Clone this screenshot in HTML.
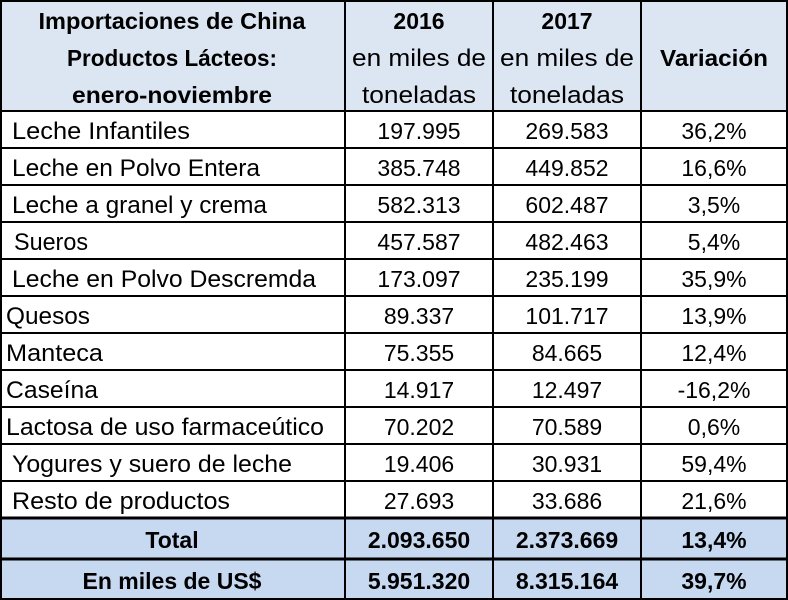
<!DOCTYPE html>
<html><head><meta charset="utf-8"><style>
html,body{margin:0;padding:0;background:#fff;}
svg{display:block;}
text{font-family:"Liberation Sans",sans-serif;fill:#000;}
.b{font-weight:bold;}
</style></head><body>
<svg width="788" height="600" viewBox="0 0 788 600" xmlns="http://www.w3.org/2000/svg">
<rect x="0" y="0" width="788" height="111" fill="#dce6f2"/>
<rect x="0" y="518" width="788" height="82" fill="#c6d9f1"/>
<g stroke="#000" fill="none">
<rect x="1" y="1" width="786" height="598" stroke-width="2"/>
<line x1="345" y1="0" x2="345" y2="600" stroke-width="2"/>
<line x1="493" y1="0" x2="493" y2="600" stroke-width="2"/>
<line x1="641" y1="0" x2="641" y2="600" stroke-width="2"/>
<line x1="0" y1="111" x2="788" y2="111" stroke-width="2"/>
<line x1="0" y1="148" x2="788" y2="148" stroke-width="2"/>
<line x1="0" y1="185" x2="788" y2="185" stroke-width="2"/>
<line x1="0" y1="222" x2="788" y2="222" stroke-width="2"/>
<line x1="0" y1="259" x2="788" y2="259" stroke-width="2"/>
<line x1="0" y1="296" x2="788" y2="296" stroke-width="2"/>
<line x1="0" y1="333" x2="788" y2="333" stroke-width="2"/>
<line x1="0" y1="370" x2="788" y2="370" stroke-width="2"/>
<line x1="0" y1="407" x2="788" y2="407" stroke-width="2"/>
<line x1="0" y1="444" x2="788" y2="444" stroke-width="2"/>
<line x1="0" y1="481" x2="788" y2="481" stroke-width="2"/>
<line x1="0" y1="518" x2="788" y2="518" stroke-width="3"/>
<line x1="0" y1="559" x2="788" y2="559" stroke-width="3"/>
</g>
<g font-size="23" text-anchor="middle">
<text class="b" x="172" y="29" textLength="267" lengthAdjust="spacingAndGlyphs">Importaciones de China</text>
<text class="b" x="172" y="66" textLength="210" lengthAdjust="spacingAndGlyphs">Productos Lácteos:</text>
<text class="b" x="172" y="103" textLength="200" lengthAdjust="spacingAndGlyphs">enero-noviembre</text>
<text class="b" x="419" y="29">2016</text>
<text x="419" y="66" font-size="24" textLength="134" lengthAdjust="spacingAndGlyphs">en miles de</text>
<text x="419" y="103" font-size="24" textLength="114" lengthAdjust="spacingAndGlyphs">toneladas</text>
<text class="b" x="567" y="29">2017</text>
<text x="567" y="66" font-size="24" textLength="134" lengthAdjust="spacingAndGlyphs">en miles de</text>
<text x="567" y="103" font-size="24" textLength="114" lengthAdjust="spacingAndGlyphs">toneladas</text>
<text class="b" x="714" y="66" textLength="108" lengthAdjust="spacingAndGlyphs">Variación</text>
</g>
<g font-size="24">
<text x="12" y="139" textLength="178" lengthAdjust="spacingAndGlyphs">Leche Infantiles</text>
<text x="12" y="176" textLength="248" lengthAdjust="spacingAndGlyphs">Leche en Polvo Entera</text>
<text x="12" y="213" textLength="255" lengthAdjust="spacingAndGlyphs">Leche a granel y crema</text>
<text x="14" y="250" textLength="74" lengthAdjust="spacingAndGlyphs">Sueros</text>
<text x="12" y="287" textLength="304" lengthAdjust="spacingAndGlyphs">Leche en Polvo Descremda</text>
<text x="6" y="324" textLength="84" lengthAdjust="spacingAndGlyphs">Quesos</text>
<text x="6" y="361" textLength="97" lengthAdjust="spacingAndGlyphs">Manteca</text>
<text x="6" y="398" textLength="92" lengthAdjust="spacingAndGlyphs">Caseína</text>
<text x="6" y="435" textLength="318" lengthAdjust="spacingAndGlyphs">Lactosa de uso farmaceútico</text>
<text x="12" y="472" textLength="280" lengthAdjust="spacingAndGlyphs">Yogures y suero de leche</text>
<text x="12" y="509" textLength="218" lengthAdjust="spacingAndGlyphs">Resto de productos</text>
</g>
<g font-size="23" text-anchor="middle">
<text x="419" y="139">197.995</text><text x="567" y="139">269.583</text><text x="714" y="139">36,2%</text>
<text x="419" y="176">385.748</text><text x="567" y="176">449.852</text><text x="714" y="176">16,6%</text>
<text x="419" y="213">582.313</text><text x="567" y="213">602.487</text><text x="714" y="213">3,5%</text>
<text x="419" y="250">457.587</text><text x="567" y="250">482.463</text><text x="714" y="250">5,4%</text>
<text x="419" y="287">173.097</text><text x="567" y="287">235.199</text><text x="714" y="287">35,9%</text>
<text x="419" y="324">89.337</text><text x="567" y="324">101.717</text><text x="714" y="324">13,9%</text>
<text x="419" y="361">75.355</text><text x="567" y="361">84.665</text><text x="714" y="361">12,4%</text>
<text x="419" y="398">14.917</text><text x="567" y="398">12.497</text><text x="714" y="398">-16,2%</text>
<text x="419" y="435">70.202</text><text x="567" y="435">70.589</text><text x="714" y="435">0,6%</text>
<text x="419" y="472">19.406</text><text x="567" y="472">30.931</text><text x="714" y="472">59,4%</text>
<text x="419" y="509">27.693</text><text x="567" y="509">33.686</text><text x="714" y="509">21,6%</text>
</g>
<g font-size="23" text-anchor="middle">
<text class="b" x="172" y="548">Total</text>
<text class="b" x="419" y="548">2.093.650</text><text class="b" x="567" y="548">2.373.669</text><text class="b" x="714" y="548">13,4%</text>
<text class="b" x="172" y="589">En miles de US$</text>
<text class="b" x="419" y="589">5.951.320</text><text class="b" x="567" y="589">8.315.164</text><text class="b" x="714" y="589">39,7%</text>
</g>
</svg>
</body></html>
